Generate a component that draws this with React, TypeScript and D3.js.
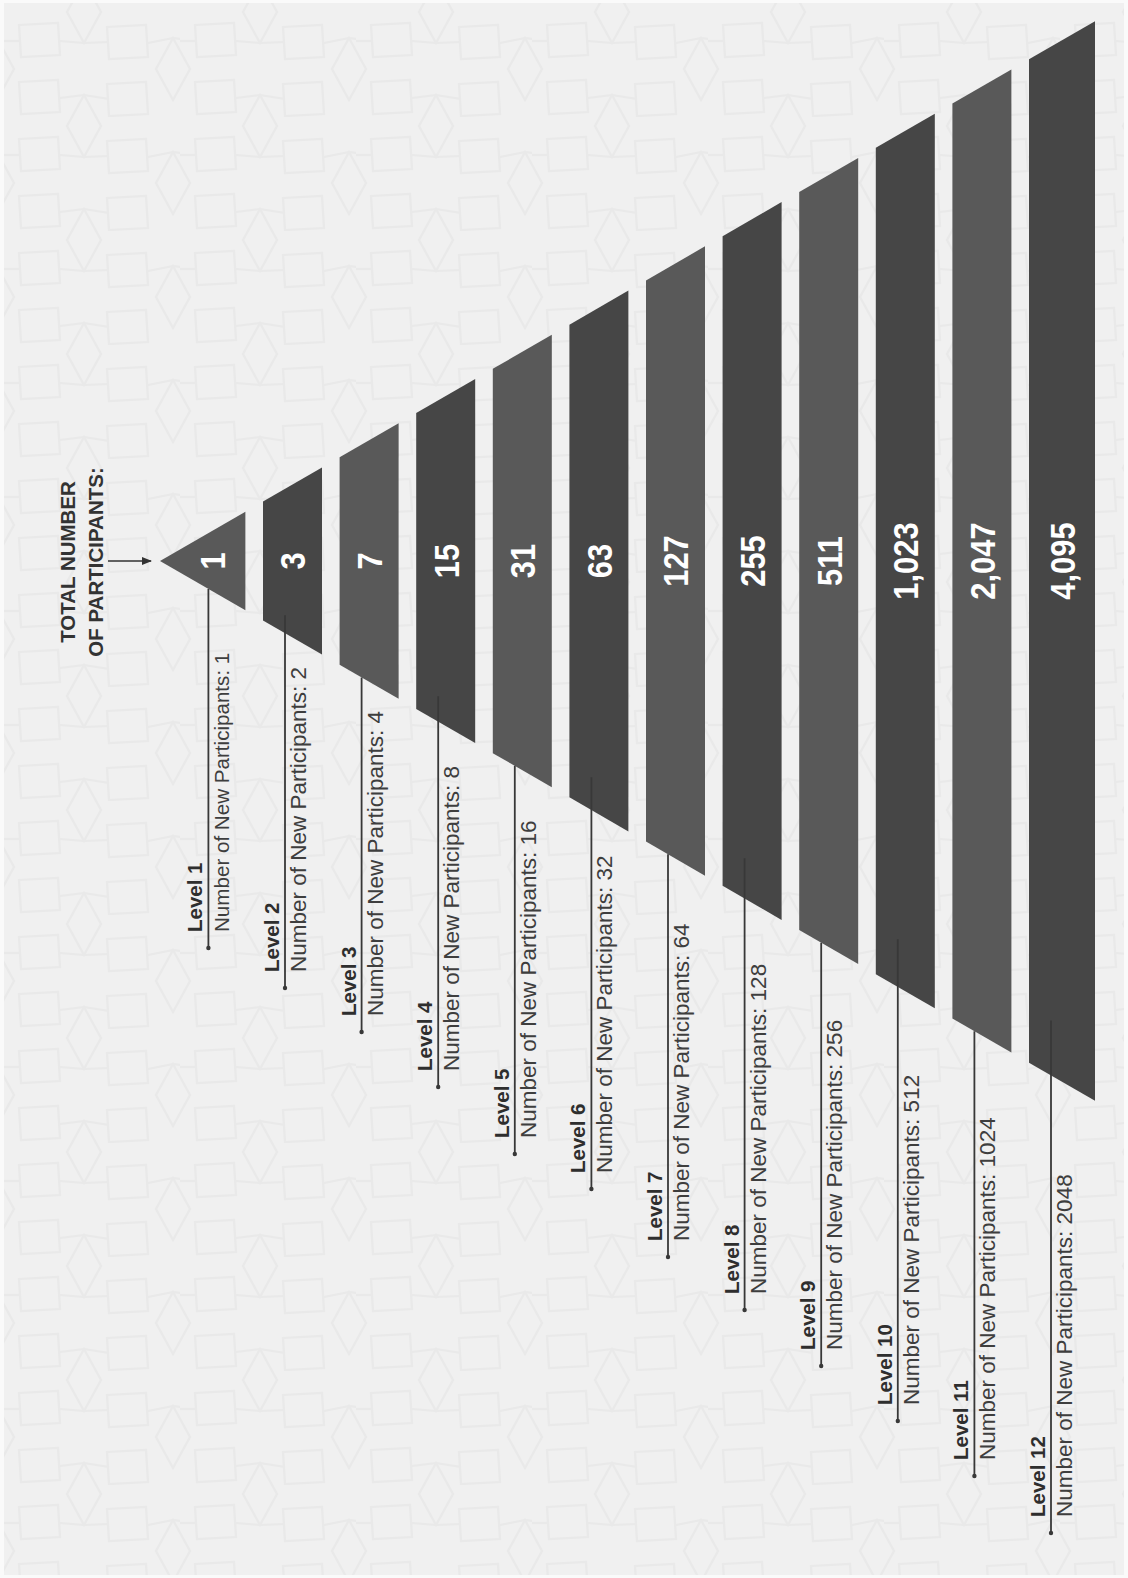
import React from 'react';
import * as d3 from 'd3';

// ---------- DATA ----------
const levels = ['Level 1', 'Level 2', 'Level 3', 'Level 4', 'Level 5', 'Level 6', 'Level 7', 'Level 8', 'Level 9', 'Level 10', 'Level 11', 'Level 12'];
const newParticipants = [1, 2, 4, 8, 16, 32, 64, 128, 256, 512, 1024, 2048];
const totalParticipants = [1, 3, 7, 15, 31, 63, 127, 255, 511, 1023, 2047, 4095];
const titleLines = ['TOTAL NUMBER', 'OF PARTICIPANTS:'];

// ---------- LAYOUT ----------
const W = 1128;
const H = 1578;
const APEX_X = 160;
const CY = 561;
const SLOPE = Math.tan(Math.PI / 6);
const BAND_W = 59;
const LAST_BAND_W = 66;
// where each annotation's leader line ends (label anchor)
const labelAnchorY = [948, 988, 1032, 1087, 1154, 1189, 1257, 1310, 1366, 1421, 1476, 1533];

const DARK = '#464646';
const MID = '#595959';

export default function App() {
  const n = levels.length;
  const xStart = d3.scaleLinear().domain([0, n - 1]).range([186.4, 1029]);
  const fmt = d3.format(',');

  const bandPts = (i: number): [number, number][] => {
    const x0 = i === 0 ? APEX_X : xStart(i);
    const x1 = xStart(i) + (i === n - 1 ? LAST_BAND_W : BAND_W);
    const h0 = (x0 - APEX_X) * SLOPE;
    const h1 = (x1 - APEX_X) * SLOPE;
    return [
      [x0, CY - h0],
      [x1, CY - h1],
      [x1, CY + h1],
      [x0, CY + h0],
    ];
  };
  const line = d3.line<[number, number]>().curve(d3.curveLinearClosed);

  const numFont = 36;
  const cap = numFont * 0.716;

  return (
    <svg
      width={W}
      height={H}
      viewBox={`0 0 ${W} ${H}`}
      style={{ position: 'absolute', left: 0, top: 0, display: 'block' }}
      fontFamily="'Liberation Sans', Arial, sans-serif"
    >
      <defs>
        <pattern id="bgpat" width={176} height={114} patternUnits="userSpaceOnUse" x={4} y={3}>
          <rect width={176} height={114} fill="#f0f0f0" />
          <g fill="none" stroke="#e9e9e9" strokeWidth={2.2}>
            <path d="M15,22 L54,20 L56,52 L17,54 Z" />
            <path d="M15,79 L54,77 L56,109 L17,111 Z" />
            <path d="M103,24 L142,22 L144,54 L105,56 Z" />
            <path d="M103,81 L142,79 L144,111 L105,113 Z" />
            <path d="M80,-22 L97,9 L80,40 L63,9 Z" />
            <path d="M80,92 L97,123 L80,154 L63,123 Z" />
            <path d="M169,35 L186,66 L169,97 L152,66 Z" />
            <path d="M-7,35 L10,66 L-7,97 L-24,66 Z" />
            <path d="M56,38 L80,40 L105,39" />
            <path d="M56,95 L80,92 L105,96" />
            <path d="M144,40 L169,35 L193,38" />
            <path d="M0,38 L17,38" />
          </g>
        </pattern>
        <marker id="arrowHead" viewBox="0 0 10 10" refX={9} refY={5} markerWidth={7} markerHeight={7} orient="auto">
          <path d="M0,1 L10,5 L0,9 Z" fill="#333" />
        </marker>
      </defs>

      <rect x={0} y={0} width={W} height={H} fill="#fafafa" />
      <rect x={4} y={3} width={W - 8} height={H - 6} fill="url(#bgpat)" />

      {/* title */}
      {titleLines.map((t, k) => (
        <text
          key={t}
          transform={`translate(${75 + k * 28},562) rotate(-90)`}
          textAnchor="middle"
          fontWeight="bold"
          fontSize={20.5}
          fill="#333"
        >
          {t}
        </text>
      ))}
      <line x1={108} y1={CY} x2={151} y2={CY} stroke="#333" strokeWidth={1.5} markerEnd="url(#arrowHead)" />

      {/* bands */}
      {levels.map((lv, i) => (
        <path key={lv} d={line(bandPts(i)) || ''} fill={i % 2 === 0 ? MID : DARK} />
      ))}

      {/* totals inside bands */}
      {levels.map((lv, i) => {
        const p = bandPts(i);
        const x0 = p[0][0];
        const x1 = p[1][0];
        const cx = i === 0 ? x1 - 33 : (x0 + x1) / 2;
        return (
          <text
            key={'t' + lv}
            transform={`translate(${cx + cap / 2},${CY}) rotate(-90) scale(0.86,1)`}
            textAnchor="middle"
            fontWeight="bold"
            fontSize={numFont}
            fill="#ffffff"
          >
            {fmt(totalParticipants[i])}
          </text>
        );
      })}

      {/* leader lines + labels */}
      {levels.map((lv, i) => {
        const lx = xStart(i) + 22;
        const edge = CY + (lx - APEX_X) * SLOPE;
        const inset = i % 2 === 1 ? 18 + (i - 1) * 3.7 : 0;
        const y0 = edge - inset;
        const y1 = labelAnchorY[i];
        const ty = y1 - 16;
        return (
          <g key={'l' + lv}>
            <line x1={lx} y1={y0} x2={lx} y2={y1} stroke="#383838" strokeWidth={1.8} />
            <circle cx={lx} cy={y1} r={2.2} fill="#383838" />
            <text
              transform={`translate(${lx - 6},${ty}) rotate(-90)`}
              fontWeight="bold"
              fontSize={20.5}
              fill="#2e2e2e"
            >
              {lv}
            </text>
            <text
              transform={`translate(${lx + 21},${ty}) rotate(-90)`}
              fontSize={i === 0 ? 20.6 : 22.5}
              fill="#3e3e3e"
            >
              {`Number of New Participants: ${newParticipants[i]}`}
            </text>
          </g>
        );
      })}
    </svg>
  );
}
